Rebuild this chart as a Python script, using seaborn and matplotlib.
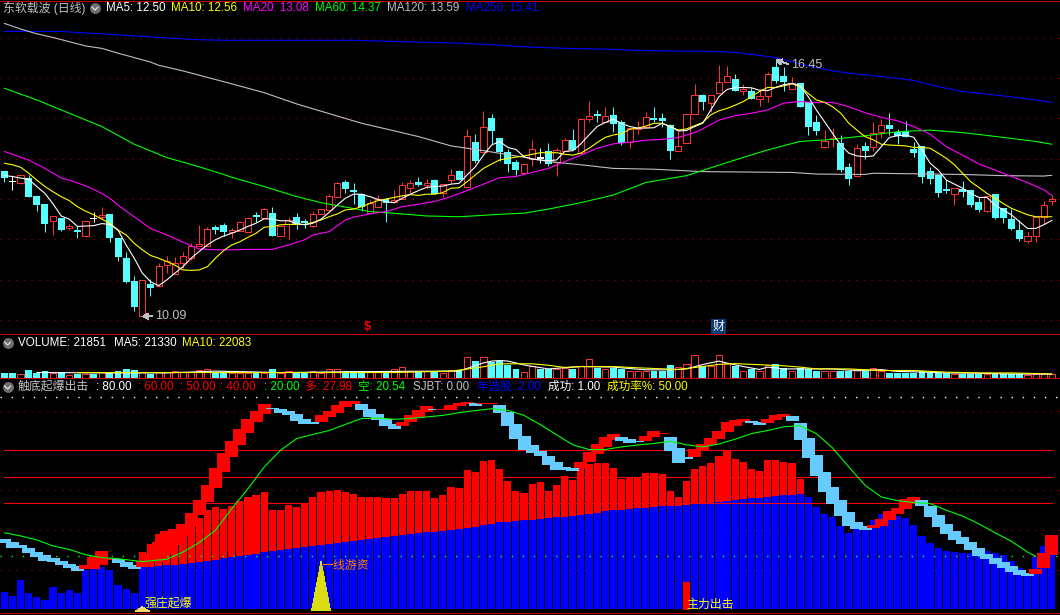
"""
Stock chart with three panels: candles with moving averages, volume and an indicator.
Usage: python plot.py
"""
import matplotlib.pyplot as plt
import numpy as np
import seaborn as sns

days = np.arange(130)

# prices
candle_open = [13.66, 13.43, 13.41, 13.49, 13.04, 12.85, 12.45, 12.51, 12.29, 12.21,
               12.08, 12.51, 12.56, 12.60, 12.00, 11.51, 10.94, 10.09, 10.87, 10.83,
               11.36, 11.15, 11.42, 11.53, 11.84, 11.84, 12.27, 12.33, 12.18, 12.20,
               12.18, 12.58, 12.54, 12.63, 12.07, 12.37, 12.52, 12.44, 12.32, 12.62,
               12.73, 13.06, 13.39, 13.20, 13.10, 12.66, 12.79, 12.98, 12.93, 12.99,
               13.28, 13.39, 13.35, 13.45, 13.16, 13.48, 13.67, 13.31, 14.39, 14.16,
               14.98, 14.48, 14.14, 13.89, 13.64, 13.99, 14.01, 14.16, 13.92, 14.19,
               14.44, 14.14, 14.98, 15.08, 14.90, 15.06, 14.88, 14.41, 14.73, 14.80,
               14.98, 14.99, 14.81, 14.20, 14.40, 15.12, 15.56, 15.39, 15.64, 15.91,
               15.95, 15.67, 15.66, 15.48, 15.55, 16.25, 16.03, 15.74, 15.85, 15.38,
               14.89, 14.29, 14.48, 14.37, 13.76, 13.56, 14.29, 14.30, 14.67, 14.81,
               14.65, 14.67, 14.22, 14.29, 13.68, 13.57, 13.23, 13.13, 13.23, 13.20,
               12.90, 12.70, 13.09, 12.75, 12.48, 12.21, 11.97, 12.07, 12.55, 12.96]
candle_close = [13.53, 13.43, 13.59, 13.06, 12.86, 12.37, 12.57, 12.23, 12.32, 12.17,
                12.45, 12.51, 12.60, 12.04, 11.57, 10.94, 10.33, 10.98, 10.78, 11.33,
                11.46, 11.42, 11.58, 11.84, 11.89, 12.25, 12.23, 12.17, 12.24, 12.42,
                12.52, 12.55, 12.75, 12.08, 12.33, 12.47, 12.38, 12.41, 12.62, 12.75,
                13.07, 13.39, 13.25, 13.17, 12.80, 12.89, 12.99, 12.89, 12.98, 13.34,
                13.39, 13.36, 13.39, 13.13, 13.37, 13.59, 13.47, 14.56, 13.94, 14.78,
                14.69, 14.16, 13.88, 13.72, 13.86, 14.23, 13.99, 13.87, 14.21, 14.46,
                14.22, 14.98, 15.06, 15.05, 15.05, 14.86, 14.38, 14.76, 14.76, 15.03,
                14.96, 14.94, 14.20, 14.31, 15.10, 15.57, 15.41, 15.57, 15.90, 16.05,
                15.69, 15.72, 15.48, 15.55, 16.10, 15.92, 15.91, 15.89, 15.29, 14.80,
                14.69, 14.45, 14.51, 13.72, 13.50, 14.26, 14.19, 14.63, 14.83, 14.75,
                14.57, 14.54, 14.15, 13.55, 13.50, 13.14, 13.19, 13.27, 13.18, 12.85,
                12.73, 13.08, 12.53, 12.54, 12.26, 12.00, 12.08, 12.56, 12.85, 12.99]
candle_high = [13.66, 13.56, 13.59, 13.60, 13.04, 12.85, 12.57, 12.51, 12.37, 12.33,
               12.45, 12.67, 12.80, 12.60, 12.00, 11.68, 11.09, 10.98, 11.01, 11.41,
               11.59, 11.57, 11.68, 11.90, 12.36, 12.31, 12.36, 12.41, 12.27, 12.46,
               12.52, 12.69, 12.78, 12.80, 12.33, 12.55, 12.65, 12.51, 12.70, 12.75,
               13.12, 13.42, 13.47, 13.39, 13.10, 12.98, 13.09, 13.02, 13.23, 13.42,
               13.47, 13.55, 13.49, 13.49, 13.37, 13.74, 13.72, 14.73, 14.62, 15.19,
               15.11, 14.48, 14.24, 13.97, 13.86, 14.47, 14.26, 14.38, 14.26, 14.51,
               14.73, 14.98, 15.43, 15.21, 15.29, 15.29, 14.96, 14.76, 14.94, 15.16,
               15.29, 15.14, 14.85, 14.70, 15.10, 15.86, 15.61, 15.57, 16.33, 16.30,
               16.10, 15.86, 15.75, 15.72, 16.15, 16.45, 16.27, 16.04, 15.85, 15.38,
               15.09, 14.71, 14.76, 14.59, 13.90, 14.37, 14.41, 14.91, 14.98, 15.13,
               14.73, 14.94, 14.41, 14.29, 13.79, 13.57, 13.46, 13.27, 13.45, 13.23,
               13.05, 13.08, 13.09, 12.75, 12.75, 12.48, 12.19, 12.56, 12.94, 13.11]
candle_low = [13.43, 13.23, 13.37, 13.06, 12.71, 12.19, 12.11, 12.21, 12.23, 12.04,
              12.05, 12.44, 12.51, 11.94, 11.46, 10.91, 10.21, 10.09, 10.60, 10.83,
              11.16, 11.15, 11.28, 11.49, 11.84, 11.84, 12.13, 12.07, 12.03, 12.20,
              12.18, 12.42, 12.54, 12.08, 12.07, 12.01, 12.25, 12.29, 12.30, 12.62,
              12.73, 13.06, 13.16, 12.88, 12.71, 12.65, 12.79, 12.44, 12.89, 12.99,
              13.14, 13.33, 13.25, 13.13, 13.06, 13.39, 13.47, 13.31, 13.89, 14.16,
              14.37, 13.95, 13.66, 13.60, 13.64, 13.82, 13.89, 13.82, 13.56, 14.19,
              14.22, 14.14, 14.90, 14.92, 14.90, 14.67, 14.34, 14.27, 14.62, 14.80,
              14.92, 14.80, 13.99, 14.20, 14.40, 15.12, 15.21, 15.17, 15.64, 15.91,
              15.69, 15.59, 15.48, 15.32, 15.42, 15.87, 15.69, 15.74, 15.29, 14.59,
              14.59, 14.26, 14.30, 13.68, 13.35, 13.56, 13.99, 14.18, 14.51, 14.59,
              14.37, 14.54, 14.04, 13.41, 13.37, 13.04, 13.16, 12.85, 13.04, 12.81,
              12.67, 12.67, 12.51, 12.41, 12.24, 11.96, 11.92, 11.94, 12.37, 12.84]
doji_days = [1, 11, 66]

ma5 = [13.58, 13.56, 13.52, 13.49, 13.31, 13.14, 12.88, 12.58, 12.50, 12.32,
       12.33, 12.34, 12.39, 12.37, 12.23, 11.86, 11.53, 11.16, 10.95, 10.85,
       10.99, 11.16, 11.32, 11.53, 11.70, 11.86, 11.99, 12.08, 12.15, 12.23,
       12.32, 12.40, 12.51, 12.50, 12.46, 12.46, 12.39, 12.36, 12.40, 12.50,
       12.67, 12.85, 13.02, 13.12, 13.12, 13.06, 12.99, 12.93, 12.91, 13.02,
       13.12, 13.21, 13.29, 13.31, 13.32, 13.37, 13.39, 13.60, 13.80, 14.09,
       14.34, 14.43, 14.28, 14.23, 14.05, 13.99, 13.97, 13.95, 13.97, 14.18,
       14.20, 14.37, 14.59, 14.80, 14.90, 14.98, 14.88, 14.80, 14.76, 14.76,
       14.77, 14.88, 14.80, 14.69, 14.70, 14.80, 14.88, 15.21, 15.54, 15.72,
       15.76, 15.77, 15.76, 15.70, 15.69, 15.77, 15.84, 15.87, 15.81, 15.54,
       15.21, 14.92, 14.63, 14.34, 14.14, 14.07, 14.05, 14.07, 14.30, 14.53,
       14.57, 14.59, 14.53, 14.22, 13.89, 13.72, 13.47, 13.37, 13.27, 13.14,
       13.04, 13.04, 12.85, 12.73, 12.61, 12.44, 12.27, 12.27, 12.36, 12.47]
ma10 = [13.89, 13.85, 13.79, 13.64, 13.47, 13.31, 13.18, 13.06, 12.96, 12.81,
        12.70, 12.61, 12.50, 12.40, 12.23, 12.11, 11.90, 11.74, 11.60, 11.53,
        11.45, 11.36, 11.24, 11.23, 11.24, 11.32, 11.53, 11.72, 11.86, 11.94,
        12.05, 12.15, 12.30, 12.32, 12.36, 12.37, 12.37, 12.37, 12.42, 12.48,
        12.56, 12.63, 12.73, 12.75, 12.81, 12.89, 12.96, 13.00, 13.04, 13.08,
        13.11, 13.09, 13.12, 13.12, 13.16, 13.27, 13.28, 13.43, 13.60, 13.76,
        13.87, 13.97, 14.01, 14.04, 14.07, 14.11, 14.15, 14.15, 14.15, 14.11,
        14.09, 14.14, 14.26, 14.40, 14.53, 14.59, 14.62, 14.73, 14.76, 14.81,
        14.88, 14.88, 14.80, 14.71, 14.74, 14.82, 14.90, 15.09, 15.19, 15.25,
        15.33, 15.42, 15.54, 15.67, 15.77, 15.77, 15.81, 15.86, 15.79, 15.62,
        15.46, 15.40, 15.29, 15.13, 14.88, 14.71, 14.55, 14.47, 14.36, 14.34,
        14.33, 14.32, 14.28, 14.28, 14.26, 14.14, 14.01, 13.85, 13.64, 13.43,
        13.29, 13.14, 13.02, 12.89, 12.77, 12.69, 12.61, 12.56, 12.56, 12.56]
ma20_days = [0, 3, 5, 7, 8, 10, 12, 13, 14, 16, 18, 20, 22, 23, 24, 26, 28, 30, 33, 35, 37, 38, 40, 42,
             43, 45, 47, 49, 51, 53, 55, 57, 59, 61, 63, 65, 67, 69, 71, 73, 75, 77, 79, 81, 83, 85,
             86, 88, 90, 92, 94, 96, 98, 100, 102, 104, 106, 108, 110, 112, 114, 116, 118, 120, 122, 124, 126, 128, 129]
ma20 = [14.18, 13.97, 13.76, 13.52, 13.47, 13.33, 13.14, 13.02, 12.85, 12.56, 12.27, 12.11, 11.93, 11.84,
        11.76, 11.74, 11.74, 11.75, 11.75, 11.86, 11.99, 12.11, 12.19, 12.48,
        12.55, 12.63, 12.69, 12.81, 12.87, 12.94, 13.06, 13.21, 13.37, 13.53, 13.56, 13.66, 13.76, 13.93,
        14.09, 14.26, 14.37, 14.41, 14.46, 14.48, 14.53, 14.65,
        14.74, 14.96, 15.07, 15.13, 15.21, 15.38, 15.42, 15.39, 15.40, 15.29, 15.14, 15.03, 14.94, 14.80,
        14.61, 14.30, 14.09, 13.87, 13.72, 13.56, 13.41, 13.23, 13.09]
ma60_days = [0, 4, 8, 12, 16, 20, 24, 27, 28, 32, 36, 39, 42, 45, 49, 52, 56, 61, 64, 67, 71, 75, 79, 84, 86,
             90, 94, 98, 102, 106, 110, 114, 118, 123, 127, 129]
ma60 = [15.75, 15.46, 15.13, 14.80, 14.36, 14.03, 13.80, 13.61, 13.54, 13.31, 13.06, 12.91, 12.80, 12.69,
        12.63, 12.58, 12.56, 12.62, 12.65, 12.75, 12.91, 13.10, 13.41, 13.58, 13.71,
        13.97, 14.22, 14.43, 14.48, 14.57, 14.67, 14.71, 14.65, 14.53, 14.43, 14.36]
ma120_days = [0, 2, 4, 6, 10, 12, 14, 18, 19, 22, 25, 28, 32, 36, 40, 44, 47, 51, 55, 59, 63, 67, 71, 75, 80, 84,
              86, 97, 100, 106, 107, 118, 123, 128, 129]
ma120 = [17.36, 17.22, 17.10, 17.01, 16.80, 16.74, 16.62, 16.40, 16.32, 16.18, 16.02, 15.86, 15.64, 15.36,
         15.12, 14.88, 14.74, 14.55, 14.32, 14.20, 14.07, 13.93, 13.85, 13.76, 13.74, 13.70,
         13.68, 13.66, 13.62, 13.61, 13.64, 13.61, 13.58, 13.57, 13.59]
ma250_days = [0, 7, 10, 13, 15, 17, 19, 21, 23, 27, 43, 50, 56, 59, 61, 63, 65, 69, 74, 78, 83, 86,
              90, 92, 95, 98, 102, 105, 109, 112, 115, 118, 123, 127, 129]
ma250 = [17.16, 17.16, 17.12, 17.09, 17.06, 17.04, 17.01, 16.99, 16.96, 16.94, 16.94, 16.90, 16.87, 16.84,
         16.82, 16.79, 16.77, 16.74, 16.72, 16.69, 16.67, 16.67,
         16.64, 16.59, 16.51, 16.35, 16.18, 16.10, 16.02, 15.94, 15.79, 15.67, 15.56, 15.46, 15.40]
price_grid = [10, 11, 12, 13, 14, 15, 16, 17]

# volume, in thousands
volume = [30, 30, 21, 45, 30, 39, 30, 32, 17, 24, 24, 22, 32, 34, 41, 49, 45, 32, 24, 32,
          32, 39, 32, 32, 43, 50, 32, 32, 30, 30, 30, 28, 28, 50, 28, 37, 30, 30, 37, 28,
          50, 50, 36, 36, 36, 32, 32, 32, 49, 62, 39, 39, 36, 36, 30, 43, 43, 118, 95, 118,
          90, 92, 71, 52, 34, 64, 50, 50, 50, 56, 50, 67, 107, 56, 52, 56, 47, 41, 36, 41,
          41, 41, 69, 60, 79, 125, 67, 64, 129, 82, 64, 41, 47, 41, 73, 75, 56, 41, 56, 47,
          36, 39, 36, 41, 41, 50, 39, 56, 41, 30, 30, 26, 30, 41, 28, 28, 28, 22, 21, 21,
          21, 21, 21, 21, 21, 21, 15, 22, 28, 22]
vol_ma5_days = [4, 12, 20, 26, 34, 42, 50, 56, 58, 59, 60, 61, 62, 63, 64, 65, 67, 71, 75, 77, 79, 82, 84, 86,
                88, 89, 91, 93, 94, 96, 99, 102, 105, 108, 110, 112, 116, 120, 124, 129]
vol_ma5 = [30, 28, 28, 38, 30, 34, 37, 38, 68, 83, 93, 96, 93, 83, 72, 64, 50, 63, 60, 52, 45, 45, 50, 74,
           93, 82, 63, 47, 60, 50, 50, 50, 40, 46, 36, 34, 28, 26, 22, 21]
vol_ma10_days = [9, 20, 34, 48, 55, 57, 59, 61, 65, 67, 69, 71, 75, 78, 83, 86, 88, 90, 92, 96, 98, 100, 104, 108,
                 112, 116, 120, 124, 129]
vol_ma10 = [30, 30, 30, 30, 38, 49, 62, 78, 78, 70, 58, 63, 63, 56, 47, 63, 75, 79, 75, 67, 60, 50, 50, 41,
            41, 32, 28, 28, 22]

# indicator panel
blue_bar = [6.4, 4.9, 10.9, 6.0, 4.5, 3.4, 8.3, 6.0, 7.2, 6.0,
            14.7, 15.1, 16.1, 14.7, 9.1, 7.5, 6.0, 15.8, 15.8, 16.2,
            16.6, 16.6, 17.0, 17.4, 17.7, 18.1, 18.5, 19.2, 19.6, 20.0,
            20.4, 20.8, 21.5, 21.9, 22.3, 22.6, 23.0, 23.4, 23.8, 24.2,
            24.5, 24.9, 25.3, 25.7, 26.0, 26.4, 26.8, 27.2, 27.5, 27.9,
            28.3, 28.7, 29.1, 29.1, 29.4, 29.8, 30.2, 30.6, 30.9, 31.7,
            32.1, 32.8, 32.8, 33.2, 33.6, 33.6, 34.0, 34.3, 34.7, 34.8,
            35.1, 35.5, 35.8, 36.2, 37.0, 37.4, 37.4, 37.7, 38.1, 38.1,
            38.5, 38.9, 38.9, 38.9, 39.2, 39.6, 39.6, 39.6, 40.4, 40.8,
            41.1, 41.5, 41.9, 41.9, 42.3, 42.6, 43.0, 43.0, 43.4, 42.3,
            38.5, 35.8, 34.7, 31.3, 28.7, 30.2, 30.2, 33.6, 35.8, 33.6,
            35.1, 34.3, 31.7, 27.5, 24.9, 23.0, 21.9, 21.5, 21.1, 21.1,
            21.9, 21.9, 21.1, 20.4, 18.1, 15.5, 12.8, 19.6, 23.8, 20.4]
red_days = np.arange(17, 99)
red_bar = [21.5, 24.5, 28.3, 29.4, 30.2, 31.7, 34.3, 34.3, 37.4, 38.5, 37.7, 38.9, 40.8, 42.3, 43.0, 44.2,
           37.4, 37.4, 39.2, 38.5, 40.0, 42.3, 44.2, 44.5, 44.9, 44.2, 43.4, 42.3, 42.3, 42.3, 41.9, 41.9,
           43.4, 44.5, 44.5, 44.5, 41.9, 43.0, 46.0, 45.7, 52.5, 51.7, 55.8, 56.2, 52.8, 48.3, 44.5, 43.8,
           47.2, 47.9, 44.5, 46.8, 50.2, 48.7, 54.3, 54.7, 55.1, 55.1, 53.2, 49.1, 49.4, 49.4, 51.3, 51.3,
           50.9, 44.5, 42.3, 48.3, 52.8, 54.0, 55.1, 57.7, 59.6, 56.6, 55.5, 52.8, 52.1, 56.2, 56.2, 55.5,
           55.1, 49.1]
long_line = [24.9, 23.0, 23.0, 21.1, 19.6, 18.1, 17.7, 16.6, 15.5, 14.3,
             16.6, 19.6, 21.9, 19.2, 17.4, 15.8, 15.1, 18.1, 20.8, 25.3,
             29.4, 30.2, 32.1, 36.2, 41.1, 46.8, 53.2, 58.9, 63.4, 67.9,
             71.7, 74.7, 77.4, 75.5, 74.0, 73.2, 70.9, 69.8, 69.8, 73.2,
             74.7, 77.0, 78.5, 78.5, 75.1, 72.5, 71.3, 69.1, 67.9, 70.6,
             73.2, 75.1, 76.6, 75.1, 75.5, 77.0, 77.7, 78.1, 76.6, 77.7,
             77.7, 74.0, 69.1, 64.2, 60.0, 58.9, 57.7, 54.3, 52.5, 52.5,
             52.1, 55.5, 59.2, 62.3, 64.9, 66.0, 63.4, 62.6, 63.0, 65.3,
             67.2, 66.4, 59.6, 55.1, 56.6, 60.4, 62.3, 64.5, 67.2, 70.6,
             71.3, 71.7, 70.2, 69.4, 71.7, 73.2, 73.6, 70.9, 63.8, 57.0,
             50.2, 44.2, 39.6, 35.1, 31.3, 30.2, 29.8, 31.7, 34.0, 37.0,
             38.1, 41.5, 42.3, 38.9, 34.7, 30.9, 28.3, 26.0, 24.5, 22.3,
             20.0, 18.9, 17.0, 15.5, 14.0, 12.8, 12.5, 15.1, 21.1, 27.9]
short_line = [26.4, 25.3, 24.2, 23.0, 21.5, 20.4, 19.2, 18.1, 17.0, 16.2,
              15.1, 15.1, 16.6, 18.5, 18.9, 17.7, 16.6, 15.8, 17.7, 17.7,
              20.8, 24.2, 27.5, 31.3, 35.5, 40.4, 45.7, 51.7, 57.4, 61.9,
              66.4, 70.6, 73.6, 75.8, 75.5, 74.7, 73.6, 71.7, 70.6, 70.6,
              72.5, 74.0, 76.2, 77.4, 77.4, 75.5, 73.6, 71.7, 69.8, 69.1,
              70.6, 72.5, 74.3, 75.5, 75.1, 75.1, 76.6, 77.4, 77.7, 77.4,
              77.4, 77.0, 74.3, 69.8, 65.3, 61.9, 59.6, 57.7, 55.5, 53.6,
              53.2, 53.2, 55.5, 58.5, 61.1, 63.8, 64.9, 64.2, 63.4, 63.4,
              64.9, 66.0, 64.9, 60.8, 57.4, 57.4, 59.6, 61.9, 64.2, 66.8,
              69.1, 70.6, 70.9, 70.6, 70.2, 71.3, 72.5, 72.8, 70.2, 64.5,
              58.1, 51.7, 46.0, 41.1, 36.6, 32.8, 31.3, 30.6, 31.3, 33.6,
              35.8, 37.7, 40.4, 41.1, 38.9, 35.5, 32.1, 29.4, 27.2, 25.3,
              23.0, 20.8, 19.2, 17.7, 16.2, 14.7, 13.6, 13.2, 15.5, 20.4]
trend_days = [0, 2, 4, 6, 8, 10, 12, 14, 17, 20, 22, 24, 26, 28, 30, 32, 34, 36, 38, 40, 42, 44, 46, 48, 50,
              52, 54, 56, 58, 60, 62, 64, 66, 68, 70, 72, 74, 76, 78, 80, 82, 84, 86, 88, 90, 92, 94, 96, 98,
              100, 102, 104, 106, 108, 110, 112, 114, 116, 118, 120, 122, 124, 126, 127]
trend = [28.9, 27.7, 26.2, 23.9, 22.6, 20.6, 19.5, 19.1, 18.0, 18.9, 21.6, 25.2, 29.8, 38.0, 45.5, 53.7, 60.0,
         64.4, 66.0, 67.5, 69.8, 72.0, 72.2, 71.7, 72.0, 72.6, 73.2, 74.2, 75.0, 75.7, 75.1, 73.2, 69.7, 65.9,
         62.1, 60.3, 60.3, 61.3, 62.0, 62.6, 63.4, 62.1, 61.3, 62.4, 64.2, 66.3, 67.5, 68.9, 69.3, 66.3, 60.9,
         53.7, 46.8, 42.4, 41.0, 40.3, 39.9, 37.4, 35.2, 32.3, 28.9, 25.7, 21.6, 20.0]
solid_levels = [60, 50, 40]
solid_span = [0, 129]
dotted_levels = [75, 45, 30, 15]
exit_day = 84
exit_value = 10.2
hot_money_day = 39
hot_money_peak = 18.1
start_day = 17

W, H = 1060, 615
RED = "#ff0000"
CYAN = "#55ffff"
CANDLE_RED = "#ff3232"
SKY = "#66ccff"
BLUE = "#0000ff"
GREEN = "#00ff00"
YELLOW = "#ffff00"
MAGENTA = "#ff00ff"
GRAY = "#c0c0c0"
DOT_RED = "#a00000"
THIN = 0.72

sns.set_theme(style="dark", rc={"figure.facecolor": "black", "axes.facecolor": "black"})
plt.rcParams["font.family"] = ["Liberation Sans", "Noto Sans CJK SC", "DejaVu Sans"]
plt.rcParams["font.size"] = 8.4
plt.rcParams["patch.antialiased"] = False


def panel(fig, top, bottom, ymin, ymax):
    ax = fig.add_axes([0, 1 - bottom / H, 1, (bottom - top) / H])
    ax.set_facecolor("none")
    return ax, (ymin, ymax)


def finish(ax, limits):
    ax.set_xlim(-0.533, 130.0)
    ax.set_ylim(*limits)
    ax.set_axis_off()


def ma_line(ax, x, y, color, zorder=5):
    sns.lineplot(x=x, y=y, ax=ax, color=color, linewidth=0.8, estimator=None, errorbar=None,
                 legend=False, zorder=zorder)


def draw_price(ax):
    o, c, hi, lo = map(np.array, (candle_open, candle_close, candle_high, candle_low))
    up = c > o
    for level in price_grid:
        ax.axhline(level, color=DOT_RED, linewidth=0.8, linestyle=(0, (1, 6)), zorder=0)
    white = np.isin(days, doji_days)
    colors = np.where(white, "#ffffff", np.where(up, CANDLE_RED, CYAN))
    ax.vlines(days, lo, hi, colors=colors, linewidth=THIN, zorder=2, snap=True)
    down = ~up
    ax.bar(days[down], np.abs(c - o)[down] + 0.025, bottom=np.minimum(o, c)[down], width=0.86,
           color=colors[down], linewidth=0, zorder=3)
    ax.bar(days[up], (c - o)[up], bottom=o[up], width=0.76, facecolor="black",
           edgecolor=CANDLE_RED, linewidth=THIN, antialiased=True, zorder=3)

    ma_line(ax, ma250_days, ma250, BLUE)
    ma_line(ax, ma120_days, ma120, GRAY)
    ma_line(ax, ma60_days, ma60, GREEN)
    ma_line(ax, ma20_days, ma20, MAGENTA)
    ma_line(ax, days, ma10, YELLOW)
    ma_line(ax, days, ma5, "#ffffff")

    ax.annotate("10.09", xy=(17, 10.09), xytext=(18.6, 10.09), color=GRAY, fontsize=9, va="center", zorder=6,
                arrowprops=dict(arrowstyle="->", color=GRAY, linewidth=THIN, shrinkA=0, shrinkB=0,
                                relpos=(0, 0.5)))
    ax.annotate("16.45", xy=(95, 16.45), xytext=(96.9, 16.33), color=GRAY, fontsize=9, va="center", zorder=6,
                arrowprops=dict(arrowstyle="->", color=GRAY, linewidth=THIN, shrinkA=0, shrinkB=0,
                                relpos=(0, 0.5)))


def draw_volume(ax):
    o, c = np.array(candle_open), np.array(candle_close)
    vol = np.array(volume)
    up = c > o
    sns.barplot(x=days[~up], y=vol[~up], native_scale=True, ax=ax, color=CYAN, saturation=1,
                width=0.84, linewidth=0, errorbar=None)
    sns.barplot(x=days[up], y=vol[up], native_scale=True, ax=ax, color=CANDLE_RED, fill=False,
                width=0.76, linewidth=THIN, errorbar=None, antialiased=True)
    ma_line(ax, vol_ma5_days, vol_ma5, "#ffffff")
    ma_line(ax, vol_ma10_days, vol_ma10, YELLOW)


def draw_indicator(ax):
    ax.axhline(80, color="#ffffff", linewidth=1.0, linestyle=(0, (1, 7)), zorder=0)
    for level in dotted_levels:
        ax.axhline(level, color=DOT_RED, linewidth=0.8, linestyle=(0, (1, 6)), zorder=0)

    sns.barplot(x=red_days, y=red_bar, native_scale=True, ax=ax, color=RED, saturation=1,
                width=0.88, linewidth=0, errorbar=None, zorder=1)
    sns.barplot(x=days, y=blue_bar, native_scale=True, ax=ax, color=BLUE, saturation=1,
                width=0.88, linewidth=0, errorbar=None, zorder=1)
    ax.bar([exit_day], [exit_value + 0.4], bottom=-0.4, width=0.88, color=RED, linewidth=0, zorder=2)
    ax.fill([hot_money_day - 1.15, hot_money_day, hot_money_day + 1.15], [-0.4, hot_money_peak, -0.4],
            color="#dcdc14", linewidth=0, zorder=2)
    ax.fill([start_day - 0.9, start_day, start_day + 0.9], [-0.8, 1.0, -0.8], color="#f5d76e", linewidth=0, zorder=2)

    ax.axhline(20, color=GREEN, linewidth=1.0, linestyle=(0, (1, 7)), zorder=2)
    for level in solid_levels:
        ma_line(ax, solid_span, [level, level], RED, zorder=2.5)

    hi, lo = np.array(long_line), np.array(short_line)
    up = hi > lo
    for day, a, b, rising in zip(days, lo, hi, up):
        ax.bar([day], [abs(b - a)], bottom=[min(a, b)], width=1.6, color=RED if rising else SKY,
               linewidth=0, zorder=3)
    ma_line(ax, trend_days, trend, GREEN, zorder=4)


def draw_labels(fig):
    ov = fig.add_axes([0, 0, 1, 1])
    ov.set_xlim(0, W)
    ov.set_ylim(H, 0)
    ov.set_axis_off()
    ov.patch.set_alpha(0)

    for y in (1, 334.3, 378, 613.3):
        ov.axhline(y, color="#c80000", linewidth=0.72)

    for x, y in ((95, 8), (7.6, 343), (7.6, 387)):
        ov.scatter([x], [y], s=62, color="#6e6e6e", linewidths=0)
        ov.plot([x - 3, x, x + 3], [y - 1, y + 2, y - 1], color="#e0e0e0", linewidth=0.9)

    rows = [
        (3, 8, "东软载波 (日线)", GRAY, 8.6),
        (106, 8, "MA5: 12.50", "#ffffff", 8.4),
        (171, 8, "MA10: 12.56", YELLOW, 8.4),
        (243, 8, "MA20: 13.08", MAGENTA, 8.4),
        (315, 8, "MA60: 14.37", GREEN, 8.4),
        (387, 8, "MA120: 13.59", GRAY, 8.4),
        (466, 8, "MA250: 15.41", BLUE, 8.4),
        (18, 343, "VOLUME: 21851", "#ffffff", 8.4),
        (114, 343, "MA5: 21330", "#ffffff", 8.4),
        (182, 343, "MA10: 22083", YELLOW, 8.4),
        (18, 387, "触底起爆出击", GRAY, 8.6),
        (96, 387, ": 80.00", "#ffffff", 8.4),
        (138, 387, ": 60.00", RED, 8.4),
        (180, 387, ": 50.00", RED, 8.4),
        (220, 387, ": 40.00", RED, 8.4),
        (264, 387, ": 20.00", GREEN, 8.4),
        (305, 387, "多: 27.98", RED, 8.4),
        (358, 387, "空: 20.54", GREEN, 8.4),
        (413, 387, "SJBT: 0.00", GRAY, 8.4),
        (477, 387, "年选股: 2.00", BLUE, 8.4),
        (548, 387, "成功: 1.00", "#ffffff", 8.4),
        (607, 387, "成功率%: 50.00", YELLOW, 8.4),
        (144, 605, "强庄起爆", YELLOW, 8.6),
        (321, 566, "一线游资", "#ff8000", 8.6),
        (686, 605, "主力出击", YELLOW, 8.6),
    ]
    for x, y, text, color, size in rows:
        ov.text(x, y, text, color=color, fontsize=size, va="center", ha="left")

    ov.text(367.5, 327.5, "$", color=RED, fontsize=9, fontweight="bold", ha="center", va="center")
    ov.text(718.5, 326.7, "财", color="#ffffff", fontsize=8.6, ha="center", va="center",
            bbox=dict(facecolor="#0b3c73", edgecolor="none", pad=1.0))


def main():
    fig = plt.figure(figsize=(W / 100, H / 100), dpi=100, facecolor="black")

    ax, limits = panel(fig, 0, 334, 9.65, 17.94)
    draw_price(ax)
    finish(ax, limits)

    ax, limits = panel(fig, 334, 378, 0, 242)
    draw_volume(ax)
    finish(ax, limits)

    ax, limits = panel(fig, 378, 615, -2.15, 87.3)
    draw_indicator(ax)
    finish(ax, limits)

    draw_labels(fig)
    fig.savefig("out.png", dpi=100, facecolor="black")


if __name__ == "__main__":
    main()
